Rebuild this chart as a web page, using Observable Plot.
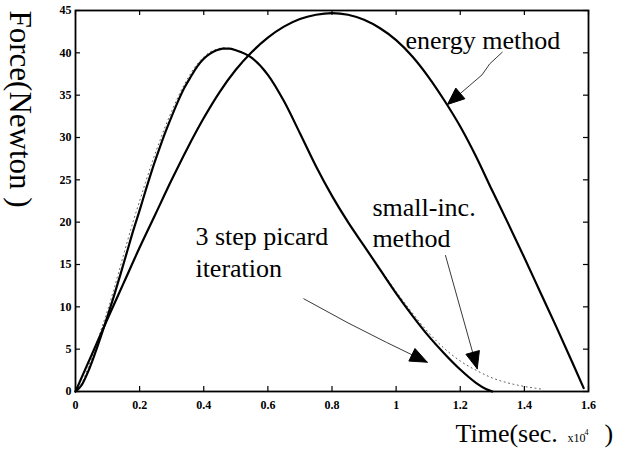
<!DOCTYPE html>
<html><head><meta charset="utf-8">
<script src="https://cdn.jsdelivr.net/npm/d3@7"></script>
<script src="https://cdn.jsdelivr.net/npm/@observablehq/plot@0.6"></script>
<style>html,body{margin:0;padding:0;background:#fff}svg{display:block}svg text{font-family:"Liberation Serif","Times New Roman",serif}</style>
</head><body><div id="chart"></div>
<script>
// ---- data ----
const picardT = [0,0.02,0.04,0.06,0.08,0.10,0.12,0.14,0.16,0.18,0.20,0.22,0.24,0.26,0.28,0.30,0.32,0.34,0.36,0.38,0.40,0.42,0.44,0.46,0.48,0.50,0.55,0.60,0.65,0.70,0.75,0.80,0.85,0.90,0.95,1.00,1.05,1.10,1.15,1.20,1.25,1.28,1.30];
const picardF = [0,0.8,2.4,4.4,6.6,8.9,11.3,13.8,16.4,19.0,21.4,23.9,26.3,28.5,30.6,32.5,34.3,35.9,37.2,38.4,39.3,39.9,40.3,40.5,40.5,40.3,39.4,37.4,34.3,30.5,26.6,23.1,20.0,17.2,14.4,11.6,9.0,6.6,4.5,2.6,1.0,0.3,0];

const smallT = [0,0.02,0.04,0.06,0.08,0.10,0.12,0.14,0.16,0.18,0.20,0.22,0.24,0.26,0.28,0.30,0.32,0.34,0.36,0.38,0.40,0.42,0.44,0.46,0.48,0.50,0.55,0.60,0.65,0.70,0.75,0.80,0.85,0.90,0.95,1.00,1.05,1.10,1.15,1.20,1.25,1.30,1.35,1.40,1.45];
const smallF = [0,1.0,2.9,5.0,7.3,9.6,12.1,14.8,17.5,20.1,22.5,24.9,27.2,29.3,31.3,33.1,34.8,36.3,37.6,38.7,39.5,40.1,40.4,40.6,40.5,40.3,39.4,37.4,34.3,30.5,26.6,23.1,20.0,17.2,14.5,11.8,9.3,7.0,5.1,3.6,2.5,1.6,1.0,0.6,0.3];

const energyT = [0,0.05,0.10,0.15,0.20,0.25,0.30,0.35,0.40,0.45,0.50,0.55,0.60,0.65,0.70,0.75,0.80,0.85,0.90,0.95,1.00,1.05,1.10,1.15,1.20,1.25,1.30,1.35,1.40,1.45,1.50,1.55,1.585];
const energyF = [0,4.3,8.6,12.8,17.0,21.0,25.0,28.8,32.3,35.4,38.0,40.1,41.8,43.1,44.0,44.5,44.7,44.5,43.9,42.9,41.5,39.6,37.2,34.4,31.3,27.7,23.7,19.8,15.8,11.7,7.6,3.4,0.4];

const xTicks = [0,0.2,0.4,0.6,0.8,1,1.2,1.4,1.6];
const yTicks = [0,5,10,15,20,25,30,35,40,45];

const yTitle = "Force(Newton )";
const xTitleMain = "Time(sec.";
const xTitleUnit = "x10";
const xTitleExp = "4";
const xTitleClose = ")";

// annotation labels (data coordinates of left end of baseline)
const labelText = ["energy method","small-inc.","method","3 step picard","iteration"];
const labelX    = [1.029, 0.926, 0.926, 0.374, 0.374];
const labelY    = [40.5, 20.67, 17.1, 17.36, 13.58];

// annotation arrows: shaft points then tip (data coordinates)
const arrowEnergy = [[1.331,40.07],[1.292,38.7],[1.268,37.4],[1.228,36.1],[1.160,33.9]];
const arrowSmall  = [[1.154,16.06],[1.253,2.68]];
const arrowPicard = [[0.712,10.95],[0.85,8.1],[0.97,5.8],[1.097,3.46]];

// ---- layout ----
const W = 618, H = 450;
const mL = 75, mR = 30, mT = 10, mB = 59;
const plotW = W - mL - mR, plotH = H - mT - mB;
const xs = d3.scaleLinear([0,1.6],[mL, W-mR]);
const ys = d3.scaleLinear([0,45],[H-mB, mT]);

const toRows = (T,F) => T.map((t,i)=>({t, f:F[i]}));
const picard = toRows(picardT, picardF);
const small  = toRows(smallT, smallF);
const energy = toRows(energyT, energyF);
const labels = labelText.map((text,i)=>({text, x:labelX[i], y:labelY[i]}));

function arrowParts(pts, id, len=17, halfW=7){
  const tip = pts[pts.length-1], prev = pts[pts.length-2];
  const tx=xs(tip[0]), ty=ys(tip[1]), fx=xs(prev[0]), fy=ys(prev[1]);
  const d=Math.hypot(tx-fx,ty-fy), ux=(tx-fx)/d, uy=(ty-fy)/d;
  const bx=tx-ux*len, by=ty-uy*len;
  const headPx=[[tx,ty],[bx-uy*halfW, by+ux*halfW],[bx+uy*halfW, by-ux*halfW],[tx,ty]];
  const head = headPx.map(([px,py])=>({x:xs.invert(px), y:ys.invert(py), id}));
  const shaft = pts.slice(0,-1).map(p=>({x:p[0], y:p[1], id}));
  shaft.push({x:xs.invert(bx+ux*2), y:ys.invert(by+uy*2), id});
  return {head, shaft};
}
const arrows = [arrowParts(arrowEnergy,"e"), arrowParts(arrowSmall,"s"), arrowParts(arrowPicard,"p")];
const shafts = arrows.flatMap(a=>a.shaft);
const heads = arrows.flatMap(a=>a.head);

const serif = "Liberation Serif";

const chart = Plot.plot({
  width: W, height: H,
  marginLeft: mL, marginRight: mR, marginTop: mT, marginBottom: mB,
  style: {fontFamily: serif, background: "white", color: "black"},
  x: {domain: [0,1.6]},
  y: {domain: [0,45]},
  marks: [
    // ticks on all four sides, pointing inward
    Plot.tickX(xTicks, {x: d=>d, insetTop: plotH-5, stroke:"black", strokeWidth:1.2}),
    Plot.tickX(xTicks, {x: d=>d, insetBottom: plotH-5, stroke:"black", strokeWidth:1.2}),
    Plot.tickY(yTicks, {y: d=>d, insetRight: plotW-5, stroke:"black", strokeWidth:1.2}),
    Plot.tickY(yTicks, {y: d=>d, insetLeft: plotW-5, stroke:"black", strokeWidth:1.2}),
    Plot.axisX(xTicks, {tickSize:0, tickPadding:9, fontSize:12, fontWeight:"bold", fontFamily:serif, tickFormat: d=>`${d}`, label:null}),
    Plot.axisY(yTicks, {tickSize:0, tickPadding:4, fontSize:12, fontWeight:"bold", fontFamily:serif, tickFormat: d=>`${d}`, label:null}),
    // curves
    Plot.line(small, {x:"t", y:"f", stroke:"#555", strokeWidth:1, strokeDasharray:"1,3.5", curve:"monotone-x"}),
    Plot.line(picard, {x:"t", y:"f", stroke:"black", strokeWidth:2.2, curve:"monotone-x"}),
    Plot.line(energy, {x:"t", y:"f", stroke:"black", strokeWidth:2.2, curve:"monotone-x"}),
    Plot.frame({stroke:"black", strokeWidth:1.8}),
    // annotation arrows
    Plot.line(shafts, {x:"x", y:"y", z:"id", stroke:"#222", strokeWidth:0.9}),
    Plot.line(heads, {x:"x", y:"y", z:"id", fill:"black", stroke:"black", strokeWidth:1}),
    // annotation labels
    Plot.text(labels, {x:"x", y:"y", text:"text", textAnchor:"start", lineAnchor:"bottom", fontSize:26, fontFamily:serif, fill:"black"}),
    // axis titles
    Plot.text([yTitle], {text:d=>d, frameAnchor:"top-left", dx:-56, dy:0, rotate:90, textAnchor:"start", lineAnchor:"middle", fontSize:31, fontFamily:serif, fill:"black"}),
    Plot.text([xTitleMain], {text:d=>d, frameAnchor:"bottom-right", dx:-133, dy:50, textAnchor:"start", lineAnchor:"bottom", fontSize:26, fontFamily:serif, fill:"black"}),
    Plot.text([xTitleUnit], {text:d=>d, frameAnchor:"bottom-right", dx:-21, dy:50, textAnchor:"start", lineAnchor:"bottom", fontSize:12, fontFamily:serif, fill:"black"}),
    Plot.text([xTitleExp], {text:d=>d, frameAnchor:"bottom-right", dx:-4, dy:43, textAnchor:"start", lineAnchor:"bottom", fontSize:8, fontFamily:serif, fill:"black"}),
    Plot.text([xTitleClose], {text:d=>d, frameAnchor:"bottom-right", dx:16, dy:50, textAnchor:"start", lineAnchor:"bottom", fontSize:26, fontFamily:serif, fill:"black"})
  ]
});
document.getElementById("chart").appendChild(chart);
</script>
</body></html>
